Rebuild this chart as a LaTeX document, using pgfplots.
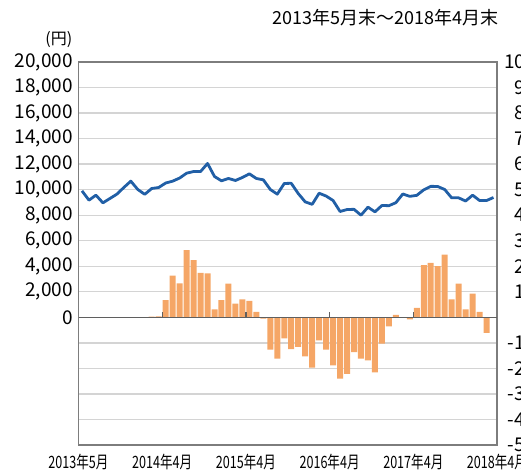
\documentclass[border=0pt]{standalone}
\usepackage{fontspec}
\setmainfont{Noto Sans CJK JP}
\newfontfamily\condensed[FakeStretch=0.74]{Noto Sans CJK JP}
\usepackage{pgfplots}
\pgfplotsset{compat=1.18}
\definecolor{lineblue}{RGB}{33,95,166}
\definecolor{barorange}{RGB}{245,166,102}
\definecolor{gridgray}{RGB}{212,212,212}
\definecolor{framegray}{RGB}{125,125,125}
\definecolor{zerogray}{RGB}{95,95,95}
\begin{document}
\begin{tikzpicture}
% Axis A: left scale, frame, grid, labels
\begin{axis}[
  at={(0,0)}, anchor=south west,
  width=418.5pt, height=383pt, scale only axis,
  xmin=0, xmax=60, ymin=-10000, ymax=20000,
  scaled y ticks=false,
  xtick={0,12,24,36,48,60},
  xticklabels={2013年5月,2014年4月,2015年4月,2016年4月,2017年4月,2018年4月},
  ytick={-10000,-8000,-6000,-4000,-2000,0,2000,4000,6000,8000,10000,12000,14000,16000,18000,20000},
  yticklabels={{},{},{},{},{},0,{2,000},{4,000},{6,000},{8,000},{10,000},{12,000},{14,000},{16,000},{18,000},{20,000}},
  major tick length=0pt,
  ymajorgrids,
  grid style={gridgray, line width=1.3pt},
  axis line style={framegray, line width=1.6pt},
  /pgf/number format/assume math mode=true,
  yticklabel style={font=\fontsize{19}{22}\selectfont, inner sep=0pt, anchor=east, xshift=-5.5pt},
  xticklabel style={font={\fontsize{17}{20}\condensed}, inner sep=0pt, anchor=north, yshift=-9pt},
]
\end{axis}
% Axis B: right scale, bars
\begin{axis}[
  at={(0,0)}, anchor=south west,
  width=418.5pt, height=383pt, scale only axis,
  xmin=0, xmax=60, ymin=-50, ymax=100,
  axis x line=none, axis y line*=right,
  y axis line style={draw=none},
  major tick length=0pt,
  ytick={-50,-40,-30,-20,-10,10,20,30,40,50,60,70,80,90,100},
  /pgf/number format/assume math mode=true,
  yticklabel style={font=\fontsize{19}{22}\selectfont, inner sep=0pt, anchor=west, xshift=7pt, text width=31pt, align=right},
]
\addplot[ybar, bar width=0.86, fill=barorange, draw=none] coordinates {
(10.5,0.3) (11.5,0.4) (12.5,6.7) (13.5,16.3) (14.5,13.3) (15.5,26.3) (16.5,22.4)
(17.5,17.4) (18.5,17.2) (19.5,3.1) (20.5,6.7) (21.5,13.2) (22.5,5.4) (23.5,7.0)
(24.5,6.4) (25.5,2.1) (26.5,-0.5) (27.5,-12.6) (28.5,-16.2) (29.5,-8.2) (30.5,-12.5)
(31.5,-11.6) (32.5,-15.3) (33.5,-19.7) (34.5,-9.0) (35.5,-12.6) (36.5,-18.8)
(37.5,-24.0) (38.5,-22.1) (39.5,-13.6) (40.5,-16.2) (41.5,-16.9) (42.5,-21.6)
(43.5,-10.3) (44.5,-3.5) (45.5,1.0) (46.5,-0.2) (47.5,-0.8) (48.5,3.7) (49.5,20.4)
(50.5,21.3) (51.5,20.1) (52.5,24.6) (53.5,7.0) (54.5,13.2) (55.5,3.1) (56.5,9.3)
(57.5,2.1) (58.5,-6.1)
};
\end{axis}
% Axis C: left scale, zero line and price line on top
\begin{axis}[
  at={(0,0)}, anchor=south west,
  width=418.5pt, height=383pt, scale only axis,
  xmin=0, xmax=60, ymin=-10000, ymax=20000,
  hide axis,
]
\draw[zerogray, line width=1.4pt] (axis cs:0,0) -- (axis cs:60,0);
\pgfplotsinvokeforeach{12,24,36,48}{
  \draw[zerogray, line width=1.2pt] (axis cs:#1,0) -- ++(0pt,5pt);
}
\addplot[lineblue, line width=2.8pt, line join=round, mark=none] coordinates {
(0.5,9908) (1.5,9176) (2.5,9569) (3.5,8967) (4.5,9307) (5.5,9647) (6.5,10170)
(7.5,10667) (8.5,10013) (9.5,9634) (10.5,10092) (11.5,10170) (12.5,10520)
(13.5,10667) (14.5,10910) (15.5,11290) (16.5,11420) (17.5,11420) (18.5,12052)
(19.5,11030) (20.5,10693) (21.5,10876) (22.5,10720) (23.5,10954) (24.5,11240)
(25.5,10876) (26.5,10770) (27.5,10013) (28.5,9647) (29.5,10484) (30.5,10500)
(31.5,9699) (32.5,9046) (33.5,8850) (34.5,9720) (35.5,9500) (36.5,9150)
(37.5,8290) (38.5,8444) (39.5,8460) (40.5,8000) (41.5,8630) (42.5,8261)
(43.5,8760) (44.5,8745) (45.5,8980) (46.5,9660) (47.5,9477) (48.5,9555)
(49.5,9987) (50.5,10260) (51.5,10250) (52.5,10013) (53.5,9359) (54.5,9359)
(55.5,9110) (56.5,9569) (57.5,9150) (58.5,9150) (59.5,9386)
};
\end{axis}
\node[anchor=east, inner sep=0pt, font=\fontsize{18}{21}\selectfont] at (420.5pt,427pt) {2013年5月末～2018年4月末};
\node[anchor=east, inner sep=0pt, font=\fontsize{16}{19}\selectfont] at (-6pt,405pt) {(円)};
\pgfresetboundingbox
\path[use as bounding box] (-78.5pt,-28pt) rectangle (442.5pt,445pt);
\end{tikzpicture}
\end{document}
